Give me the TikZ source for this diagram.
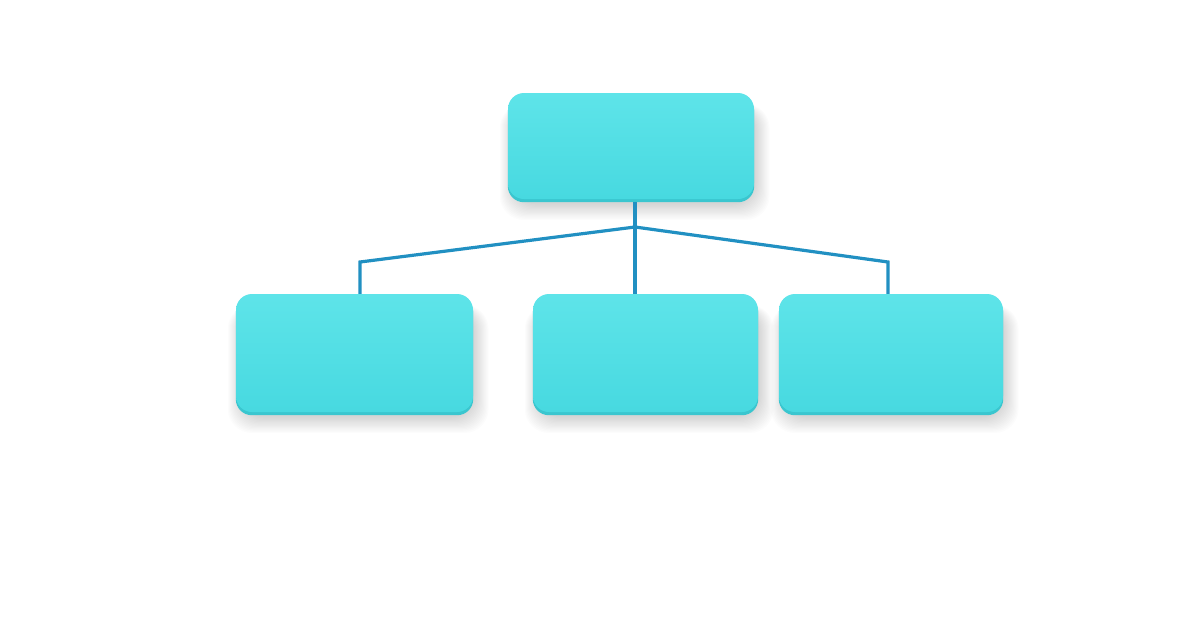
\documentclass[tikz,border=0pt]{standalone}
\usetikzlibrary{backgrounds,calc}
\definecolor{cardtop}{HTML}{5EE4E9}
\definecolor{cardbot}{HTML}{47D9E0}
\definecolor{cardedge}{HTML}{3AC6CF}
\definecolor{linkc}{HTML}{2190C2}
\begin{document}
\begin{tikzpicture}[x=1pt,y=-1pt,
  card/.style={rectangle, rounded corners=16pt, top color=cardtop, bottom color=cardbot, draw=none, inner sep=0pt},
  link/.style={draw=linkc, line width=3.2pt, line join=miter}]
\useasboundingbox (0,0) rectangle (1200,630);
\node[card, minimum width=246pt, minimum height=106pt] (top) at (631,146) {};
\node[card, minimum width=237pt, minimum height=118pt] (left) at (354.5,353) {};
\node[card, minimum width=225pt, minimum height=118pt] (mid) at (645.5,353) {};
\node[card, minimum width=224pt, minimum height=118pt] (right) at (891,353) {};
\begin{scope}[on background layer]
  \fill[white] (0,0) rectangle (1200,630);
  \foreach \n in {top,left,mid,right}{
    \foreach \i in {1,...,14}{
      \fill[black, opacity=0.010, rounded corners=24pt]
        ($(\n.south west)+(-\i*1.0+6, 4+\i*1.2)$) rectangle ($(\n.north east)+(\i*1.1, 14-\i*0.2)$);
    }
    \fill[cardedge, rounded corners=16pt] ($(\n.south west)+(0,3)$) rectangle ($(\n.north east)+(0,3)$);
  }
\end{scope}
\coordinate (j) at (635,227);
\coordinate (cl) at (360,262);
\coordinate (cr) at (888,262);
\draw[link] ($(top.south -| j)+(0,3)$) -- (j);
\draw[link] (j) -- (cl) -- (left.north -| cl);
\draw[link] (j) -- (mid.north -| j);
\draw[link] (j) -- (cr) -- (right.north -| cr);
\end{tikzpicture}
\end{document}
